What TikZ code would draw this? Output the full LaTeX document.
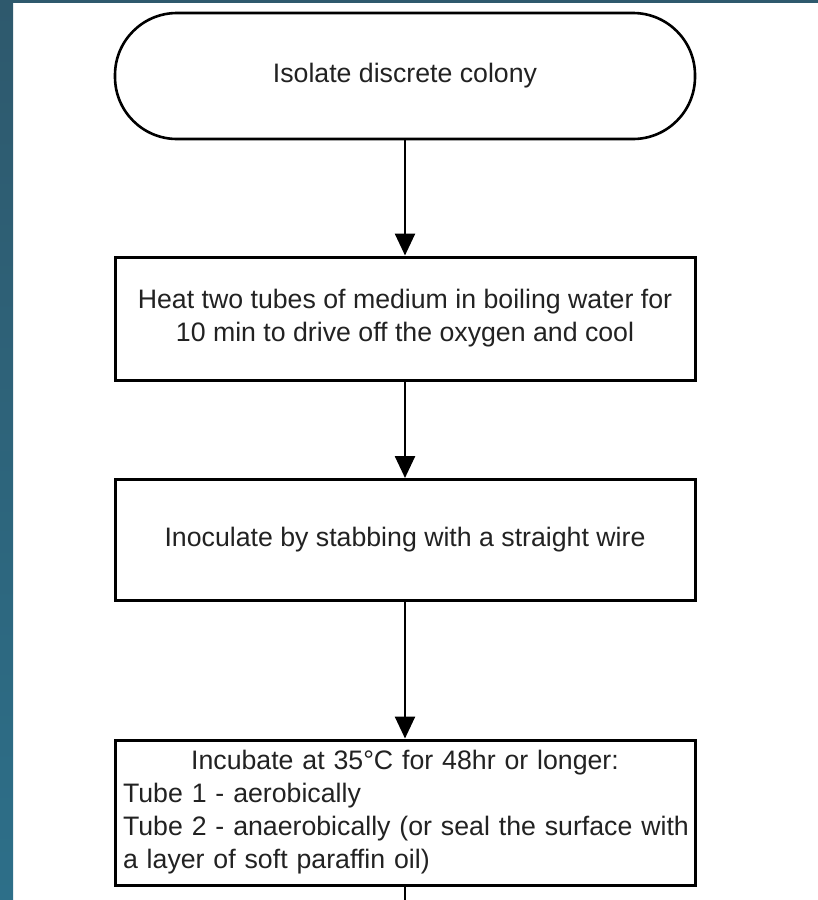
\documentclass[tikz,border=0pt]{standalone}
\usepackage{fontspec}
\setmainfont{Liberation Sans}
\usetikzlibrary{arrows.meta}
\definecolor{striptop}{HTML}{2E596D}
\definecolor{stripbot}{HTML}{2D6F89}
\definecolor{txt}{HTML}{222222}
\begin{document}
\begin{tikzpicture}[x=1pt,y=-1pt,
  box/.style={draw=black,line width=3pt,fill=white,minimum width=580pt,inner sep=8pt,
    font=\fontsize{26.7}{33}\selectfont,text=txt},
  term/.style={box,rounded corners=62pt,line width=2.6pt},
  flow/.style={line width=2.6pt,-{Triangle[length=22pt,width=20pt]}}]
\useasboundingbox (0,0) rectangle (818,900);
\fill[white] (0,0) rectangle (818,900);
\shade[top color=striptop,bottom color=stripbot] (0,0) rectangle (13,900);
\fill[striptop] (0,0) rectangle (818,3);
\node[term,minimum height=126pt] (n1) at (405,76) {Isolate discrete colony};
\node[box,minimum height=123pt,align=center] (n2) at (405,318.5)
  {Heat two tubes of medium in boiling water for\\10 min to drive off the oxygen and cool};
\node[box,minimum height=121pt] (n3) at (405,540) {Inoculate by stabbing with a straight wire};
\node[box,minimum height=145pt,inner xsep=8pt,text width=564pt,align=left] (n4) at (405,812.5)
  {\hfill Incubate at 35°C for 48hr or longer:\hfill\null\\\mbox{Tube 1 - aerobically}\\\mbox{Tube 2 - anaerobically (or seal the surface with}\\\mbox{a layer of soft paraffin oil)}};
\coordinate (end) at (405,900);
\draw[flow] (n1) -- (n2);
\draw[flow] (n2) -- (n3);
\draw[flow] (n3) -- (n4);
\draw[line width=2.6pt] (n4) -- (end);
\end{tikzpicture}
\end{document}
